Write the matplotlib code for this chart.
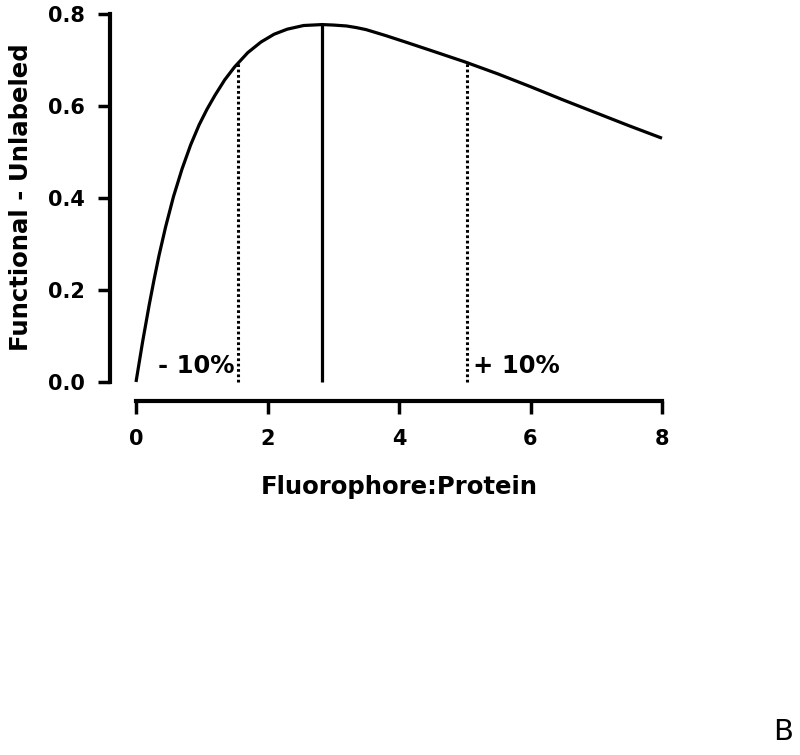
import matplotlib
matplotlib.use("Agg")
import matplotlib.pyplot as plt

# ---- data ----
ratio = [0, 0.1, 0.2, 0.274, 0.35, 0.45, 0.57, 0.7, 0.83, 0.96, 1.08, 1.2,
         1.35, 1.5, 1.7, 1.9, 2.1, 2.3, 2.55, 2.83, 3.0, 3.2, 3.35, 3.5,
         3.8, 4.1, 4.5, 5.0, 5.5, 6.0, 6.5, 7.0, 7.5, 8.0]
functional = [0, 0.087, 0.167, 0.222, 0.275, 0.337, 0.403, 0.463, 0.515,
              0.559, 0.593, 0.623, 0.657, 0.685, 0.716, 0.739, 0.756, 0.767,
              0.775, 0.777, 0.776, 0.774, 0.7705, 0.766, 0.753, 0.739, 0.720,
              0.696, 0.670, 0.642, 0.613, 0.585, 0.557, 0.530]

peak_x = 2.83
peak_y = 0.777
band_x = [1.55, 5.03]
band_y = [0.693, 0.697]
band_labels = ["- 10%", "+ 10%"]

x_ticks = [0, 2, 4, 6, 8]
y_ticks = [0.0, 0.2, 0.4, 0.6, 0.8]
x_label = "Fluorophore:Protein"
y_label = "Functional - Unlabeled"
panel_letter = "B"

plt.rcParams['font.family'] = ['DejaVu Sans']
plt.rcParams['font.weight'] = 'bold'

W, H = 800, 755
fig = plt.figure(figsize=(W / 100, H / 100), dpi=100)
ax = fig.add_axes([136 / W, 1 - 382 / H, (662 - 136) / W, (382 - 14) / H])

ax.plot(ratio, functional, color='black', lw=2.3, clip_on=False,
        solid_capstyle='butt', solid_joinstyle='round')
ax.plot([peak_x, peak_x], [0, peak_y], color='black', lw=2.3, clip_on=False,
        solid_capstyle='butt')
for bx, by in zip(band_x, band_y):
    ax.plot([bx, bx], [0, by], color='black', lw=2.2,
            linestyle=(0, (0.9, 0.85)), clip_on=False)

ax.text(1.505, 0.0196, band_labels[0], ha='right', va='baseline',
        fontsize=17.5, fontweight='bold')
ax.text(5.13, 0.0196, band_labels[1], ha='left', va='baseline',
        fontsize=17.5, fontweight='bold')

ax.set_xlim(0, 8)
ax.set_ylim(0, 0.8)
for s in ['top', 'right']:
    ax.spines[s].set_visible(False)
ax.spines['left'].set_position(('outward', 26.3 * 0.72))
ax.spines['bottom'].set_position(('outward', 19 * 0.72))
ax.spines['left'].set_bounds(0, 0.8)
ax.spines['bottom'].set_bounds(0, 8)
for s in ['left', 'bottom']:
    ax.spines[s].set_linewidth(3.0)
    ax.spines[s].set_capstyle('projecting')

ax.set_xticks(x_ticks)
ax.set_xticklabels([f"{v:g}" for v in x_ticks])
ax.set_yticks(y_ticks)
ax.set_yticklabels([f"{v:.1f}" for v in y_ticks])
ax.tick_params(axis='both', direction='out', length=9, width=2.5,
               labelsize=15)
ax.tick_params(axis='x', pad=11)
ax.tick_params(axis='y', pad=9)

ax.set_xlabel(x_label, fontsize=17.6, fontweight='bold')
ax.xaxis.set_label_coords(0.5, (382 - 494) / 368)
ax.xaxis.label.set_va('baseline')
ax.set_ylabel(y_label, fontsize=17.6, fontweight='bold')
ax.yaxis.set_label_coords((21 - 136) / 526, (382 - 197.5) / 368)
ax.yaxis.label.set_va('center')
ax.yaxis.label.set_ha('center')

fig.text(783 / W, 1 - 740 / H, panel_letter, ha='center', va='baseline',
         fontsize=21, fontweight='normal')

fig.savefig("out.png", dpi=100)
